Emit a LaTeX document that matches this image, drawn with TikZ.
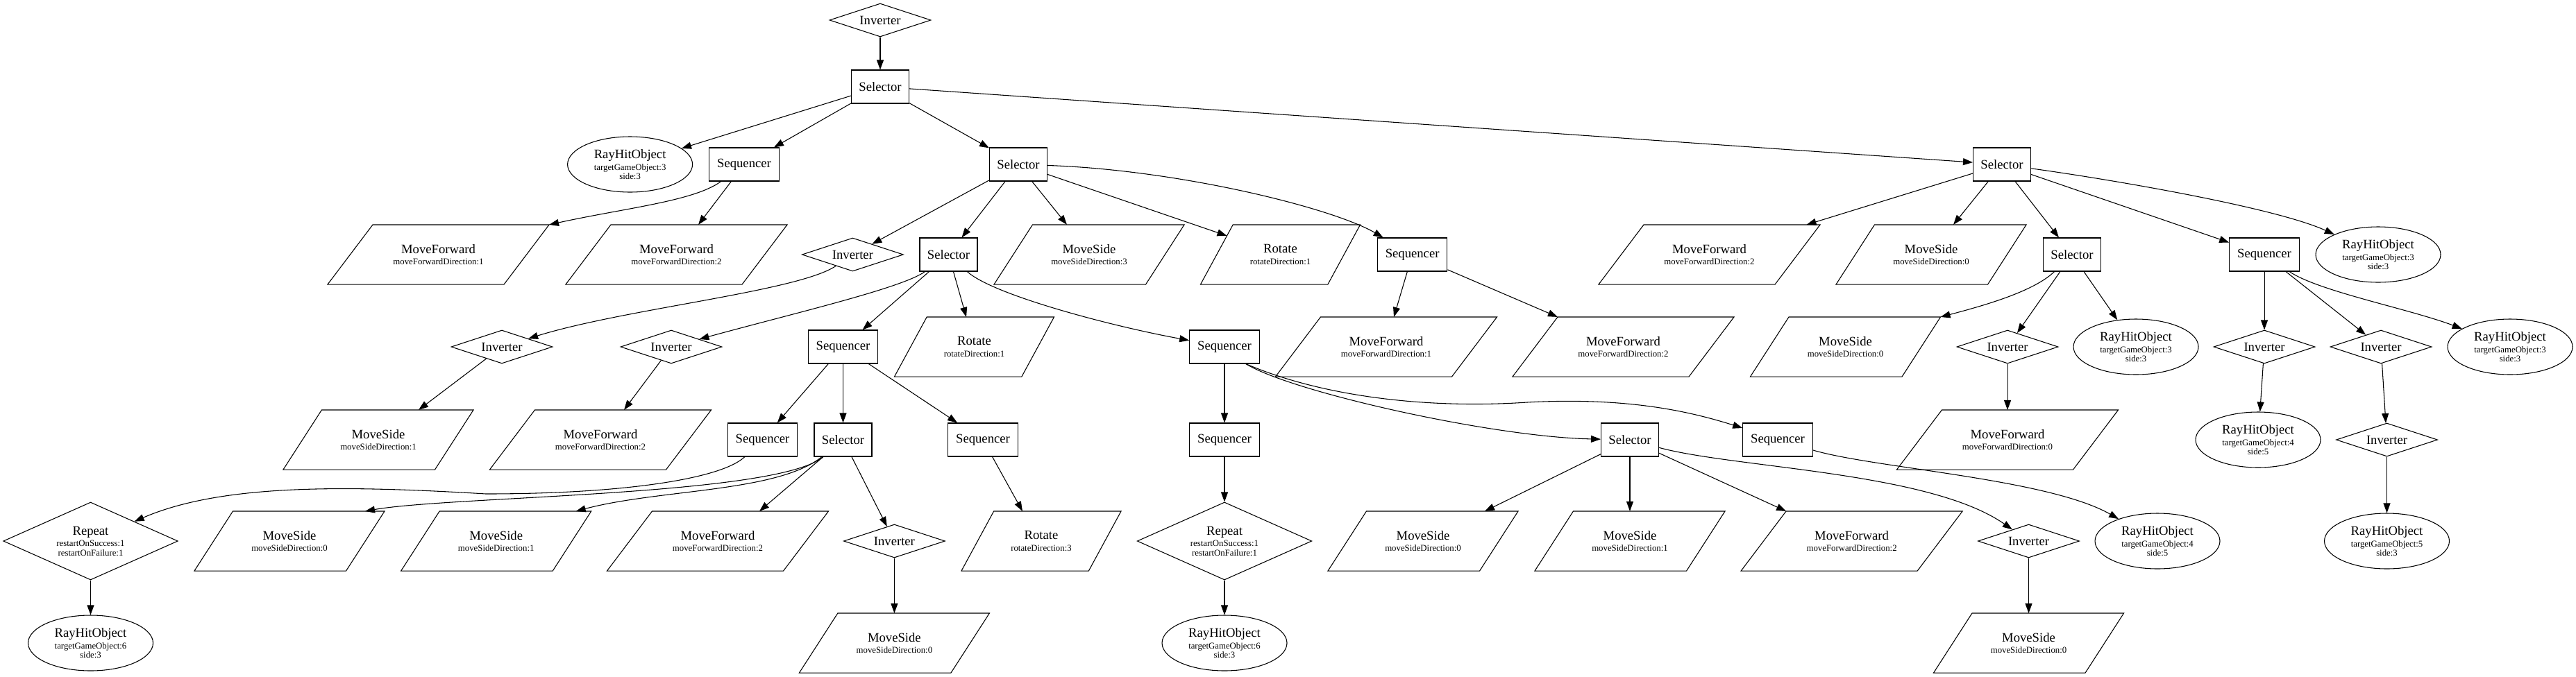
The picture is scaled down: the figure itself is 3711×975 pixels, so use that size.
\documentclass[tikz,border=0pt]{standalone}
\usepackage{fontspec}
\setmainfont{Liberation Serif}
\usetikzlibrary{shapes.geometric,arrows.meta,calc}
\newcommand\hd[1]{{\fontsize{14}{16}\selectfont #1}}
\begin{document}
\begin{tikzpicture}[x=0.75pt,y=-0.75pt,
  every node/.style={line width=0.8pt},
  big/.style={font=\fontsize{14}{16}\selectfont},
  boxn/.style={draw,rectangle,minimum height=36pt,inner sep=0pt,big},
  seln/.style={boxn,minimum width=62.25pt},
  seqn/.style={boxn,minimum width=75.4pt},
  invn/.style={draw,diamond,shape aspect=3,minimum width=109.5pt,minimum height=36pt,inner sep=0pt,big},
  repn/.style={draw,diamond,shape aspect=2.25,minimum width=188.6pt,minimum height=84pt,inner sep=0pt,align=center,font=\fontsize{9.6}{10}\selectfont},
  rhon/.style={draw,ellipse,minimum width=135pt,minimum height=60pt,inner sep=0pt,align=center,font=\fontsize{9.6}{10}\selectfont},
  prl/.style={rectangle,minimum height=63.75pt,inner sep=0pt,align=center,font=\fontsize{9.6}{10}\selectfont},
  msn/.style={prl,minimum width=204.75pt},
  mfn/.style={prl,minimum width=238.5pt},
  rotn/.style={prl,minimum width=171.75pt},
  shp/.style={draw,line width=0.8pt},
  conn/.style={draw,line width=0.8pt,-{Triangle[length=10.5pt,width=7.5pt]}}]
\useasboundingbox (0,0) rectangle (3711,975);

% Row A, B
\node[invn] (inv0) at (1268,29) {Inverter};
\node[seln] (sel1) at (1268,125) {Selector};
% Row C
\node[rhon] (r1) at (907.6,237) {\hd{RayHitObject}\\[2.5pt]targetGameObject:3\\side:3};
\node[seqn] (seq1) at (1072,237) {Sequencer};
\node[seln] (sel2) at (1467,237) {Selector};
\node[seln] (sel3) at (2884,237) {Selector};
% Row D
\node[mfn] (mf1) at (631.5,367) {\hd{MoveForward}\\[2.5pt]moveForwardDirection:1};
\node[mfn] (mf2) at (974.5,367) {\hd{MoveForward}\\[2.5pt]moveForwardDirection:2};
\node[invn] (inv1) at (1228.4,367) {Inverter};
\node[seln] (sel4) at (1366.5,367) {Selector};
\node[msn] (ms3) at (1569,367) {\hd{MoveSide}\\[2.5pt]moveSideDirection:3};
\node[rotn] (rot1) at (1844.5,367) {\hd{Rotate}\\[2.5pt]rotateDirection:1};
\node[seqn] (seq2) at (2034.6,367) {Sequencer};
\node[mfn] (mfd) at (2462.5,367) {\hd{MoveForward}\\[2.5pt]moveForwardDirection:2};
\node[msn] (msd) at (2782,367) {\hd{MoveSide}\\[2.5pt]moveSideDirection:0};
\node[seln] (sel7) at (2985,367) {Selector};
\node[seqn] (seq9) at (3262,367) {Sequencer};
\node[rhon] (rd) at (3426,367) {\hd{RayHitObject}\\[2.5pt]targetGameObject:3\\side:3};
% Row E
\node[invn] (inv2) at (723,500) {Inverter};
\node[invn] (inv3) at (967,500) {Inverter};
\node[seqn] (seq3) at (1214.5,500) {Sequencer};
\node[rotn] (rot1b) at (1403.5,500) {\hd{Rotate}\\[2.5pt]rotateDirection:1};
\node[seqn] (seq4) at (1764,500) {Sequencer};
\node[mfn] (mfe1) at (1997,500) {\hd{MoveForward}\\[2.5pt]moveForwardDirection:1};
\node[mfn] (mfe2) at (2338.5,500) {\hd{MoveForward}\\[2.5pt]moveForwardDirection:2};
\node[msn] (mse) at (2658.5,500) {\hd{MoveSide}\\[2.5pt]moveSideDirection:0};
\node[invn] (inv4) at (2892,500) {Inverter};
\node[rhon] (re1) at (3077,500) {\hd{RayHitObject}\\[2.5pt]targetGameObject:3\\side:3};
\node[invn] (inv5) at (3262,500) {Inverter};
\node[invn] (inv6) at (3430,500) {Inverter};
\node[rhon] (re2) at (3616,500) {\hd{RayHitObject}\\[2.5pt]targetGameObject:3\\side:3};
% Row F
\node[msn] (msf1) at (545,634) {\hd{MoveSide}\\[2.5pt]moveSideDirection:1};
\node[mfn] (mff2) at (865,634) {\hd{MoveForward}\\[2.5pt]moveForwardDirection:2};
\node[seqn] (seq5) at (1098.5,634) {Sequencer};
\node[seln] (sel5) at (1214.5,634) {Selector};
\node[seqn] (seq6) at (1416,634) {Sequencer};
\node[seqn] (seq7) at (1764,634) {Sequencer};
\node[seln] (sel6) at (2348,634) {Selector};
\node[seqn] (seq8) at (2561,634) {Sequencer};
\node[mfn] (mff0) at (2892,634) {\hd{MoveForward}\\[2.5pt]moveForwardDirection:0};
\node[rhon] (rf4) at (3253,634) {\hd{RayHitObject}\\[2.5pt]targetGameObject:4\\side:5};
\node[invn] (inv7) at (3438.5,634) {Inverter};
% Row G
\node[repn] (rep1) at (130.5,780) {\hd{Repeat}\\[2.5pt]restartOnSuccess:1\\restartOnFailure:1};
\node[msn] (msg0) at (417,780) {\hd{MoveSide}\\[2.5pt]moveSideDirection:0};
\node[msn] (msg1) at (714.7,780) {\hd{MoveSide}\\[2.5pt]moveSideDirection:1};
\node[mfn] (mfg2) at (1034,780) {\hd{MoveForward}\\[2.5pt]moveForwardDirection:2};
\node[invn] (inv8) at (1288.4,780) {Inverter};
\node[rotn] (rotg3) at (1500,780) {\hd{Rotate}\\[2.5pt]rotateDirection:3};
\node[repn] (rep2) at (1764,780) {\hd{Repeat}\\[2.5pt]restartOnSuccess:1\\restartOnFailure:1};
\node[msn] (msg0b) at (2050,780) {\hd{MoveSide}\\[2.5pt]moveSideDirection:0};
\node[msn] (msg1b) at (2348,780) {\hd{MoveSide}\\[2.5pt]moveSideDirection:1};
\node[mfn] (mfg2b) at (2667.6,780) {\hd{MoveForward}\\[2.5pt]moveForwardDirection:2};
\node[invn] (inv9) at (2922.5,780) {Inverter};
\node[rhon] (rg45) at (3108,780) {\hd{RayHitObject}\\[2.5pt]targetGameObject:4\\side:5};
\node[rhon] (rg5) at (3438.5,780) {\hd{RayHitObject}\\[2.5pt]targetGameObject:5\\side:3};
% Row H
\node[rhon] (rh6a) at (130.5,927) {\hd{RayHitObject}\\[2.5pt]targetGameObject:6\\side:3};
\node[msn] (msh0) at (1288.4,927) {\hd{MoveSide}\\[2.5pt]moveSideDirection:0};
\node[rhon] (rh6b) at (1764,927) {\hd{RayHitObject}\\[2.5pt]targetGameObject:6\\side:3};
\node[msn] (msh0b) at (2922.5,927) {\hd{MoveSide}\\[2.5pt]moveSideDirection:0};

% parallelogram outlines
\foreach \n/\s in {mf1/65,mf2/65,ms3/55.5,rot1/46.7,mfd/65,msd/55.5,rot1b/46.7,mfe1/65,mfe2/65,mse/55.5,msf1/55.5,mff2/65,mff0/65,msg0/55.5,msg1/55.5,mfg2/65,rotg3/46.7,msg0b/55.5,msg1b/55.5,mfg2b/65,msh0/55.5,msh0b/55.5}
  \draw[shp] (\n.south west) -- ($(\n.north west)+(\s,0)$) -- (\n.north east) -- ($(\n.south east)+(-\s,0)$) -- cycle;

% connectors
\draw[conn] (inv0) -- (sel1);
\draw[conn] (sel1) -- (r1);
\draw[conn] (sel1) -- (seq1);
\draw[conn] (sel1) -- (sel2);
\draw[conn] (sel1) -- (sel3);
\draw[conn] (seq1) .. controls (1000,290) and (900,300) .. (mf1.north east);
\draw[conn] (seq1) -- ($(mf2.north)+(31.5,0)$);
\draw[conn] (sel2) -- (inv1);
\draw[conn] (sel2) -- (sel4);
\draw[conn] (sel2) -- ($(ms3.north)+(-32,0)$);
\draw[conn] (sel2) -- ($(rot1.north west)+(38,16)$);
\draw[conn] (sel2) .. controls (1700,245) and (1920,300) .. (seq2);
\draw[conn] (inv1) .. controls (1150,420) and (900,445) .. (inv2);
\draw[conn] (inv2) -- ($(msf1.north)+(58,0)$);
\draw[conn] (sel4) .. controls (1300,415) and (1150,450) .. (inv3);
\draw[conn] (inv3) -- ($(mff2.north)+(34,0)$);
\draw[conn] (sel4) -- (seq3);
\draw[conn] (sel4) -- ($(rot1b.north)+(-11.5,0)$);
\draw[conn] (sel4) .. controls (1430,425) and (1600,470) .. (seq4);
\draw[conn] (seq2) -- ($(mfe1.north)+(11,0)$);
\draw[conn] (seq2) -- ($(mfe2.north west)+(65,0)$);
\draw[conn] (seq3) -- (seq5);
\draw[conn] (seq3) -- (sel5);
\draw[conn] (seq3) -- (seq6);
\draw[conn] (seq5) .. controls (1040,690) and (900,712) .. (700,712) .. controls (500,700) and (320,697) .. (rep1.north east);
\draw[conn] (rep1) -- (rh6a);
\draw[conn] (sel5) .. controls (1120,715) and (650,715) .. ($(msg0.north)+(109,0)$);
\draw[conn] (sel5) .. controls (1120,710) and (950,705) .. ($(msg1.north)+(115,0)$);
\draw[conn] (sel5) -- ($(mfg2.north)+(60,0)$);
\draw[conn] (sel5) -- (inv8);
\draw[conn] (inv8) -- (msh0);
\draw[conn] (seq6) -- ($(rotg3.north)+(-27,0)$);
\draw[conn] (seq4) -- (seq7);
\draw[conn] (seq7) -- (rep2);
\draw[conn] (rep2) -- (rh6b);
\draw[conn] ($(seq4.south east)+(-20,0)$) .. controls (1860,565) and (2150,630) .. (sel6);
\draw[conn] ($(seq4.south east)+(-20,0)$) .. controls (1900,570) and (2050,590) .. (2200,580) .. controls (2350,572) and (2440,595) .. ($(seq8.west)+(0,-17)$);
\draw[conn] (sel6) -- ($(msg0b.north)+(89,0)$);
\draw[conn] (sel6) -- (msg1b);
\draw[conn] (sel6) -- ($(mfg2b.north west)+(65,0)$);
\draw[conn] (sel6) .. controls (2500,675) and (2780,680) .. (inv9);
\draw[conn] (inv9) -- (msh0b);
\draw[conn] (seq8) .. controls (2700,675) and (2950,690) .. (rg45);
\draw[conn] (sel3) -- ($(mfd.north)+(140,0)$);
\draw[conn] (sel3) -- ($(msd.north)+(32,0)$);
\draw[conn] (sel3) -- (sel7);
\draw[conn] (sel3) -- (seq9);
\draw[conn] (sel3) .. controls (3050,260) and (3280,300) .. (rd);
\draw[conn] (sel7) .. controls (2930,420) and (2860,440) .. (mse.north east);
\draw[conn] (sel7) -- (inv4);
\draw[conn] (sel7) -- (re1);
\draw[conn] (inv4) -- (mff0);
\draw[conn] (seq9) -- (inv5);
\draw[conn] (seq9) -- (inv6);
\draw[conn] (seq9) .. controls (3340,420) and (3470,445) .. (re2);
\draw[conn] (inv5) -- (rf4);
\draw[conn] (inv6) -- (inv7);
\draw[conn] (inv7) -- (rg5);
\end{tikzpicture}
\end{document}
